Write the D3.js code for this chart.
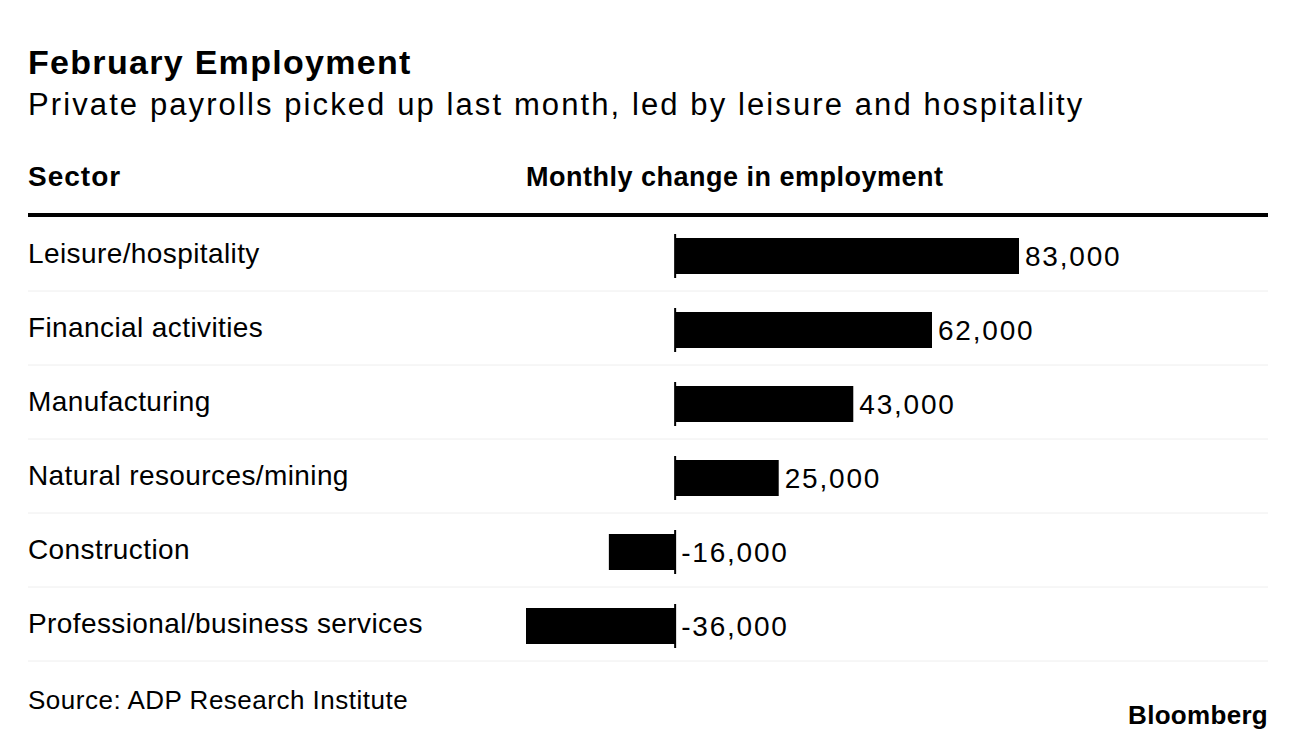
<!DOCTYPE html>
<html>
<head>
<meta charset="utf-8">
<script src="https://cdn.jsdelivr.net/npm/d3@7"></script>
<style>
  body { margin: 0; background: #fff; }
  svg { display: block; font-family: "Liberation Sans", Arial, sans-serif; }
</style>
</head>
<body>
<div id="chart"></div>
<script>
const sectors = ['Leisure/hospitality', 'Financial activities', 'Manufacturing',
  'Natural resources/mining', 'Construction', 'Professional/business services'];
const changes = [83000, 62000, 43000, 25000, -16000, -36000];

const width = 1296, height = 740;
const left = 28, right = 1268;

const svg = d3.select('#chart').append('svg')
  .attr('width', width)
  .attr('height', height);

svg.append('text')
  .attr('x', left).attr('y', 74)
  .style('font-size', '34px').style('font-weight', 'bold')
  .style('letter-spacing', '1.3px')
  .text('February Employment');

svg.append('text')
  .attr('x', left).attr('y', 115)
  .style('font-size', '31px')
  .style('letter-spacing', '2.1px')
  .text('Private payrolls picked up last month, led by leisure and hospitality');

svg.append('text')
  .attr('x', left).attr('y', 186)
  .style('font-size', '28px').style('font-weight', 'bold')
  .style('letter-spacing', '1px')
  .text('Sector');

svg.append('text')
  .attr('x', 526).attr('y', 186)
  .style('font-size', '27px').style('font-weight', 'bold')
  .style('letter-spacing', '0.5px')
  .text('Monthly change in employment');

svg.append('line')
  .attr('x1', left).attr('x2', right)
  .attr('y1', 215).attr('y2', 215)
  .attr('stroke', '#000').attr('stroke-width', 4);

const y = d3.scaleBand()
  .domain(sectors)
  .range([217, 661]);

const x = d3.scaleLinear()
  .domain([d3.min(changes), d3.max(changes)])
  .range([526, 1019]);

const rows = svg.selectAll('.row')
  .data(sectors)
  .enter().append('g')
  .attr('class', 'row')
  .attr('transform', d => `translate(0, ${y(d)})`);

const bh = y.bandwidth();
const barH = 36;

rows.append('line')
  .attr('x1', left).attr('x2', right)
  .attr('y1', bh).attr('y2', bh)
  .attr('stroke', '#eeeeee').attr('stroke-width', 1);

rows.append('text')
  .attr('x', left).attr('y', bh / 2 + 9)
  .style('font-size', '28px')
  .style('letter-spacing', '0.4px')
  .text(d => d);

rows.append('rect')
  .attr('x', (d, i) => Math.min(x(0), x(changes[i])))
  .attr('width', (d, i) => Math.abs(x(changes[i]) - x(0)))
  .attr('y', bh / 2 + 2 - barH / 2)
  .attr('height', barH)
  .attr('fill', '#000');

rows.append('line')
  .attr('x1', x(0)).attr('x2', x(0))
  .attr('y1', bh / 2 + 2 - barH / 2 - 4)
  .attr('y2', bh / 2 + 2 + barH / 2 + 4)
  .attr('stroke', '#000').attr('stroke-width', 2);

const fmt = d3.format(',');
rows.append('text')
  .attr('x', (d, i) => Math.max(x(0), x(changes[i])) + 6)
  .attr('y', bh / 2 + 12)
  .style('font-size', '28px')
  .style('letter-spacing', '1.8px')
  .text((d, i) => changes[i] < 0 ? '-' + fmt(-changes[i]) : fmt(changes[i]));

svg.append('text')
  .attr('x', left).attr('y', 709)
  .style('font-size', '26px')
  .style('letter-spacing', '0.5px')
  .text('Source: ADP Research Institute');

svg.append('text')
  .attr('x', right).attr('y', 724)
  .attr('text-anchor', 'end')
  .style('font-size', '26px').style('font-weight', 'bold')
  .style('letter-spacing', '0.3px')
  .text('Bloomberg');
</script>
</body>
</html>
